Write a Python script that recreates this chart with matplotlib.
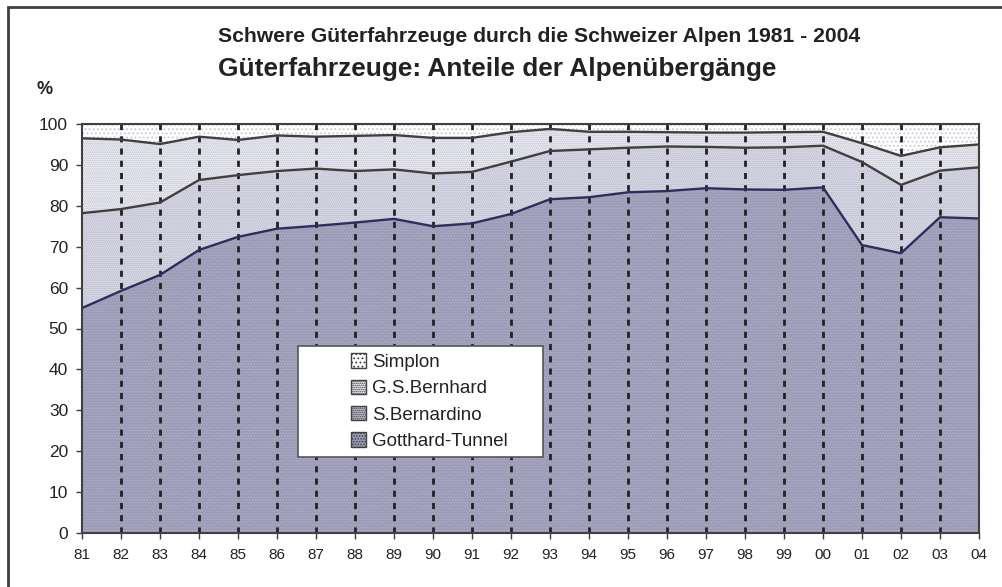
import numpy as np
import matplotlib
matplotlib.use("Agg")
import matplotlib.pyplot as plt
from matplotlib.patches import Patch, Rectangle

plt.rcParams['font.family'] = ['Liberation Sans', 'DejaVu Sans']
plt.rcParams['hatch.linewidth'] = 0.8

# Jahre (Achsenbeschriftung) und Anteile in %
years = ["81", "82", "83", "84", "85", "86", "87", "88", "89", "90", "91", "92",
         "93", "94", "95", "96", "97", "98", "99", "00", "01", "02", "03", "04"]
gotthard = [55.0, 59.2, 63.1, 69.2, 72.4, 74.4, 75.1, 75.9, 76.8, 75.0, 75.7, 78.0,
            81.6, 82.1, 83.3, 83.6, 84.3, 84.0, 83.9, 84.5, 70.4, 68.4, 77.2, 76.9]
bernardino = [23.2, 20.0, 17.7, 17.1, 15.1, 14.1, 14.0, 12.6, 12.1, 12.9, 12.6, 12.8,
              11.8, 11.7, 10.9, 10.9, 10.1, 10.2, 10.4, 10.2, 20.3, 16.7, 11.4, 12.5]
bernhard = [18.3, 17.0, 14.3, 10.6, 8.6, 8.7, 7.8, 8.6, 8.4, 8.7, 8.3, 7.2,
            5.4, 4.3, 3.9, 3.5, 3.5, 3.7, 3.7, 3.4, 4.6, 7.1, 5.7, 5.6]
simplon = [3.5, 3.8, 4.9, 3.1, 3.9, 2.8, 3.1, 2.9, 2.7, 3.4, 3.4, 2.0,
           1.2, 1.9, 1.9, 2.0, 2.1, 2.1, 2.0, 1.9, 4.7, 7.8, 5.7, 5.0]
names = ["Gotthard-Tunnel", "S.Bernardino", "G.S.Bernhard", "Simplon"]

# Stil je Serie: Flächenfarbe, Punktraster, Rasterfarbe, Linienfarbe
styles = [
    ("#9b9bb8", "......", "#aeaec4", "#2e2e5c"),
    ("#c2c2d4", "........", "#e4e4ee", "#404040"),
    ("#ececf2", "........", "#c4c4d4", "#404040"),
    ("#ffffff", "....", "#c8c8d6", "#404040"),
]

x = np.arange(len(years))
series = np.array([gotthard, bernardino, bernhard, simplon])
tops = np.cumsum(series, axis=0)
bottoms = np.vstack([np.zeros(len(years)), tops[:-1]])

fig = plt.figure(figsize=(10.02, 5.87), dpi=100)
ax = fig.add_axes([82 / 1002, 54 / 587, 897 / 1002, 409 / 587])

for i in range(4):
    fc, hatch, hc, lc = styles[i]
    ax.fill_between(x, bottoms[i], tops[i], facecolor=fc, hatch=hatch,
                    edgecolor=hc, linewidth=0, zorder=1)
for i in range(3):
    ax.plot(x, tops[i], color=styles[i][3], lw=1.7, zorder=3)

# gestrichelte Jahreslinien
for xi in x[1:-1]:
    ax.axvline(xi, color="#222222", lw=2, ls=(0, (2.2, 2.2)), zorder=2)

ax.set_xlim(0, len(years) - 1)
ax.set_ylim(0, 100)
ax.set_xticks(x)
ax.set_xticklabels(years)
ax.set_yticks(np.arange(0, 101, 10))
ax.tick_params(axis="x", labelsize=11, length=4, width=1, color="#404040",
               labelcolor="#222222", pad=7)
ax.tick_params(axis="y", labelsize=12.5, length=4, width=1, color="#404040",
               labelcolor="#222222", pad=6)
for s in ax.spines.values():
    s.set_color("#404040")
    s.set_linewidth(1.5)
    s.set_zorder(4)

fig.text(218 / 1002, 1 - 36 / 587, "Schwere Güterfahrzeuge durch die Schweizer Alpen 1981 - 2004",
         fontsize=15.2, fontweight="bold", color="#222222", va="center", ha="left")
fig.text(218 / 1002, 1 - 69 / 587, "Güterfahrzeuge: Anteile der Alpenübergänge",
         fontsize=18.9, fontweight="bold", color="#222222", va="center", ha="left")
fig.text(45 / 1002, 1 - 90 / 587, "%", fontsize=13, fontweight="bold",
         color="#222222", va="center", ha="center")

# Legende
handles = [Patch(facecolor=styles[i][0], hatch=styles[i][1], edgecolor="#404040",
                 linewidth=1) for i in [3, 2, 1, 0]]
labels = [names[i] for i in [3, 2, 1, 0]]
fig.patches.append(Rectangle((298 / 1002, 1 - 457 / 587), 245 / 1002, 111 / 587,
                             transform=fig.transFigure, facecolor="white",
                             edgecolor="#555555", lw=1.2, zorder=5))
leg = fig.legend(handles, labels, loc="upper left",
                 bbox_to_anchor=(340 / 1002, 1 - 342 / 587), frameon=False,
                 fontsize=13.5, handlelength=0.8, handleheight=0.8,
                 handletextpad=0.3, labelspacing=0.46, borderpad=0.1)
for t in leg.get_texts():
    t.set_color("#222222")

# Rahmen um die Grafik
fig.patches.append(Rectangle((8 / 1002, -0.1), 1.2, 1.1 - 7 / 587,
                             transform=fig.transFigure, fill=False,
                             edgecolor="#404040", lw=2, clip_on=False))

fig.savefig("out.png", dpi=100)
